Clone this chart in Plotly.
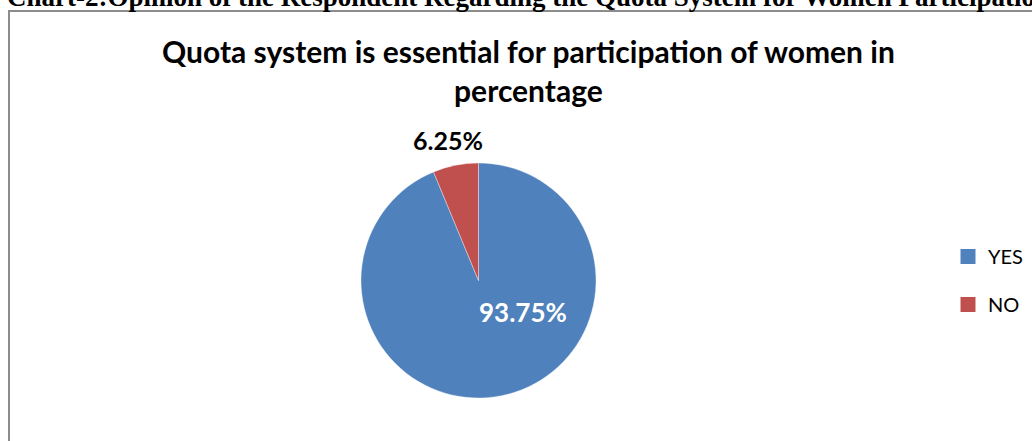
import plotly.graph_objects as go

categories = ["YES", "NO"]
values = [93.75, 6.25]
colors = ["#4F81BD", "#C0504D"]
heading = "Chart-2:Opinion of the Respondent Regarding the Quota System for Women Participation"
chart_title = "Quota system is essential for participation of women in<br>percentage"

W, H = 1032, 441

fig = go.Figure()
fig.add_trace(go.Pie(
    labels=categories, values=values, sort=False, direction="clockwise", rotation=0,
    marker=dict(colors=colors, line=dict(color="rgba(255,255,255,0.6)", width=0.6)),
    textinfo="none", showlegend=False, hoverinfo="label+percent",
    domain=dict(x=[361 / W, 596 / W], y=[1 - 398 / H, 1 - 163 / H]),
))

# legend entries
for c, col in zip(categories, colors):
    fig.add_trace(go.Scatter(
        x=[None], y=[None], mode="markers", name=c, legendgroup=c,
        marker=dict(symbol="square", size=15, color=col),
        showlegend=True,
    ))

# slice labels
fig.add_annotation(text=f"{values[1]:.2f}%", x=447.5 / W, y=1 - 140 / H, xref="paper", yref="paper",
                   xanchor="center", yanchor="middle", showarrow=False,
                   font=dict(family="Lato", size=25, color="#000000", weight="bold"))
fig.add_annotation(text=f"{values[0]:.2f}%", x=523 / W, y=1 - 312 / H, xref="paper", yref="paper",
                   xanchor="center", yanchor="middle", showarrow=False,
                   font=dict(family="Lato", size=26, color="#FFFFFF", weight="bold"))

# chart title
fig.add_annotation(text=chart_title, x=528 / W, y=1 - 31 / H, xref="paper", yref="paper",
                   xanchor="center", yanchor="top", showarrow=False, align="center",
                   font=dict(family="Lato", size=30, color="#000000", weight="bold"))

# document heading (cut at top)
fig.add_annotation(text=heading, x=5 / W, y=1 - 14 / H, xref="paper", yref="paper",
                   xanchor="left", yanchor="bottom", showarrow=False,
                   font=dict(family="Liberation Serif", size=27, color="#000000", weight="bold"))

# border of chart area
fig.add_shape(type="rect", xref="paper", yref="paper",
              x0=9 / W, x1=1048 / W, y0=-20 / H, y1=1 - 11 / H,
              line=dict(color="#8C8C8C", width=2), fillcolor="rgba(0,0,0,0)")

fig.update_layout(
    width=W, height=H, margin=dict(l=0, r=0, t=0, b=0),
    paper_bgcolor="white", plot_bgcolor="white",
    xaxis=dict(visible=False), yaxis=dict(visible=False),
    legend=dict(x=948 / W, y=1 - 237 / H, xanchor="left", yanchor="top",
                font=dict(family="Lato", size=20, color="#000000"),
                tracegroupgap=19, itemwidth=30, bgcolor="rgba(0,0,0,0)"),
)

fig.write_html("out.html", config={"displayModeBar": False},
               post_script="document.body.style.margin='0';document.body.style.overflow='hidden';")
